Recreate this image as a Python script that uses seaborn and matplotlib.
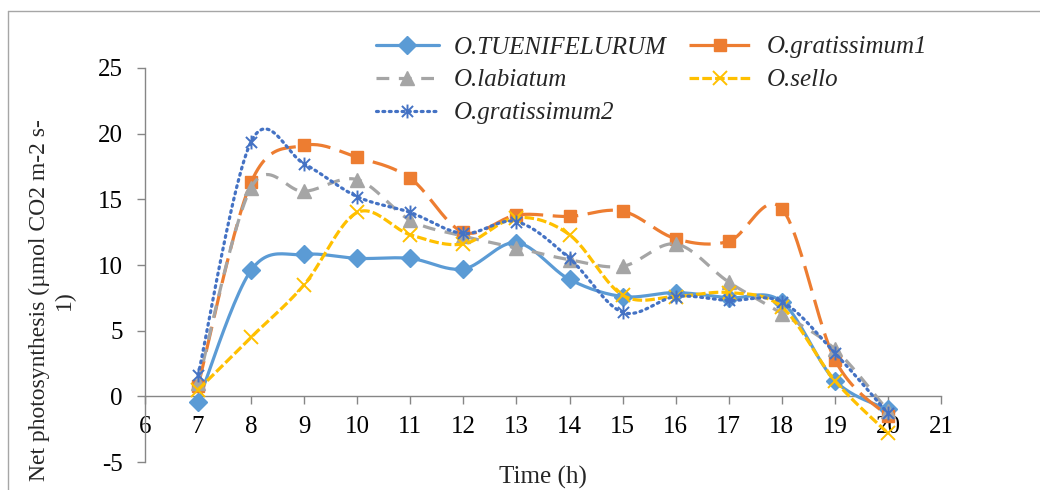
import numpy as np
import pandas as pd
import matplotlib
matplotlib.use("Agg")
import matplotlib.pyplot as plt
import seaborn as sns
from matplotlib.path import Path
from matplotlib.lines import Line2D

# ---------------- data ----------------
hours = [7, 8, 9, 10, 11, 12, 13, 14, 15, 16, 17, 18, 19, 20]
o_tuenifelurum = [-0.4, 9.6, 10.8, 10.5, 10.5, 9.7, 11.7, 8.9, 7.6, 7.9, 7.5, 7.2, 1.2, -1.0]
o_gratissimum1 = [0.8, 16.3, 19.1, 18.2, 16.6, 12.5, 13.8, 13.7, 14.1, 12.0, 11.8, 14.3, 2.8, -1.5]
o_labiatum = [1.0, 15.9, 15.6, 16.5, 13.4, 12.2, 11.3, 10.4, 9.9, 11.6, 8.7, 6.3, 3.6, -1.1]
o_sello = [0.5, 4.5, 8.5, 14.0, 12.3, 11.6, 13.6, 12.3, 7.7, 7.6, 7.9, 6.8, 1.2, -2.8]
o_gratissimum2 = [1.6, 19.4, 17.7, 15.2, 14.0, 12.4, 13.3, 10.5, 6.4, 7.6, 7.3, 7.2, 3.3, -1.3]

series_names = ["O.TUENIFELURUM", "O.gratissimum1", "O.labiatum", "O.sello", "O.gratissimum2"]
series_values = [o_tuenifelurum, o_gratissimum1, o_labiatum, o_sello, o_gratissimum2]
x_ticks = list(range(6, 22))
y_ticks = [-5, 0, 5, 10, 15, 20, 25]
x_label = "Time (h)"
y_label = "Net photosynthesis (\u00b5mol CO2 m-2 s-\n1)"

# ---------------- style ----------------
sns.set_theme(style="white")
plt.rcParams["font.family"] = ["Liberation Serif", "DejaVu Serif"]
plt.rcParams["axes.unicode_minus"] = False

star = Path([(-1, -1), (1, 1), (-1, 1), (1, -1), (0, -1.25), (0, 1.25)],
            [Path.MOVETO, Path.LINETO, Path.MOVETO, Path.LINETO, Path.MOVETO, Path.LINETO])

styles = [
    dict(color="#5B9BD5", ls="-", marker="D", ms=9, filled=True),
    dict(color="#ED7D31", ls=(0, (8, 3)), marker="s", ms=9, filled=True),
    dict(color="#A5A5A5", ls=(0, (4, 3)), marker="^", ms=10.5, filled=True),
    dict(color="#FFC000", ls=(0, (3, 1)), marker="x", ms=10.5, filled=False),
    dict(color="#4472C4", ls=(0, (0.6, 1.4)), marker=star, ms=10, filled=False),
]
LW = 2.3


def smooth(x, y, n=25):
    pts = np.column_stack([x, y]).astype(float)
    P = np.vstack([pts[0], pts, pts[-1]])
    out = []
    t = np.linspace(0, 1, n)[:, None]
    for i in range(1, len(P) - 2):
        p0, p1, p2, p3 = P[i - 1], P[i], P[i + 1], P[i + 2]
        c1 = p1 + (p2 - p0) / 6.0
        c2 = p2 - (p3 - p1) / 6.0
        seg = (1 - t) ** 3 * p1 + 3 * (1 - t) ** 2 * t * c1 + 3 * (1 - t) * t ** 2 * c2 + t ** 3 * p2
        out.append(seg if i == 1 else seg[1:])
    return np.vstack(out)


fig = plt.figure(figsize=(10.4, 4.9), dpi=100)
ax = fig.add_axes([145 / 1040, 1 - 462 / 490, (941 - 145) / 1040, (462 - 68) / 490])

handles = []
for k, (name, vals, st) in enumerate(zip(series_names, series_values, styles)):
    curve = smooth(hours, vals)
    dfc = pd.DataFrame({"x": curve[:, 0], "y": curve[:, 1]})
    sns.lineplot(data=dfc, x="x", y="y", ax=ax, sort=False, estimator=None,
                 color=st["color"], linewidth=LW, zorder=3 + 2 * k)
    line = ax.get_lines()[-1]
    line.set_linestyle(st["ls"])
    if k == 4:
        line.set_dash_capstyle("round")
    mk = dict(marker=st["marker"], markersize=st["ms"], linestyle="none", zorder=4 + 2 * k)
    if st["filled"]:
        mk.update(markerfacecolor=st["color"], markeredgecolor=st["color"])
    else:
        mk.update(markeredgecolor=st["color"], markeredgewidth=1.4, fillstyle="none")
    ax.plot(hours, vals, **mk)
    h = Line2D([], [], color=st["color"], linewidth=LW, linestyle=st["ls"],
               **{kk: v for kk, v in mk.items() if kk not in ("linestyle", "zorder")})
    if k == 4:
        h.set_dash_capstyle("round")
    handles.append(h)

ax.set_xlim(6, 21)
ax.set_ylim(-5, 25)
ax.set_xticks(x_ticks)
ax.set_yticks(y_ticks)
ax.set_xlabel("")
ax.set_ylabel("")
for s in ["top", "right"]:
    ax.spines[s].set_visible(False)
ax.spines["bottom"].set_position(("data", 0))
for s in ["left", "bottom"]:
    ax.spines[s].set_color("#868686")
    ax.spines[s].set_linewidth(1.0)
ax.tick_params(axis="both", which="major", direction="out", length=6, width=1.0,
               color="#868686", labelsize=18, labelcolor="black", bottom=True, left=True)
ax.tick_params(axis="y", pad=10)
ax.tick_params(axis="x", pad=8)
ax.patch.set_alpha(0)

fig.text(543 / 1040, 1 - 477 / 490, x_label, ha="center", va="center", fontsize=18)
fig.text(52 / 1040, 1 - 300 / 490, y_label, ha="center", va="center", rotation=90,
         fontsize=17, multialignment="center", linespacing=1.2)

# reorder for 2-column row-wise legend (matplotlib fills column-wise)
order = [0, 2, 4, 1, 3]
leg = fig.legend([handles[i] for i in order], [series_names[i] for i in order],
                 loc="upper left", bbox_to_anchor=(376 / 1040, 1 - 36 / 490), ncol=2,
                 frameon=False, borderpad=0, borderaxespad=0, handlelength=2.5,
                 handletextpad=0.6, columnspacing=0.9, labelspacing=0.42,
                 prop=dict(family="Liberation Serif", style="italic", size=18))

# outer chart border (partially visible)
fig.add_artist(Line2D([8 / 1040, 1], [1 - 11 / 490, 1 - 11 / 490], transform=fig.transFigure,
                      color="#A6A6A6", linewidth=1.0))
fig.add_artist(Line2D([8 / 1040, 8 / 1040], [0, 1 - 11 / 490], transform=fig.transFigure,
                      color="#A6A6A6", linewidth=1.0))

fig.savefig("out.png", dpi=100, facecolor="white")
